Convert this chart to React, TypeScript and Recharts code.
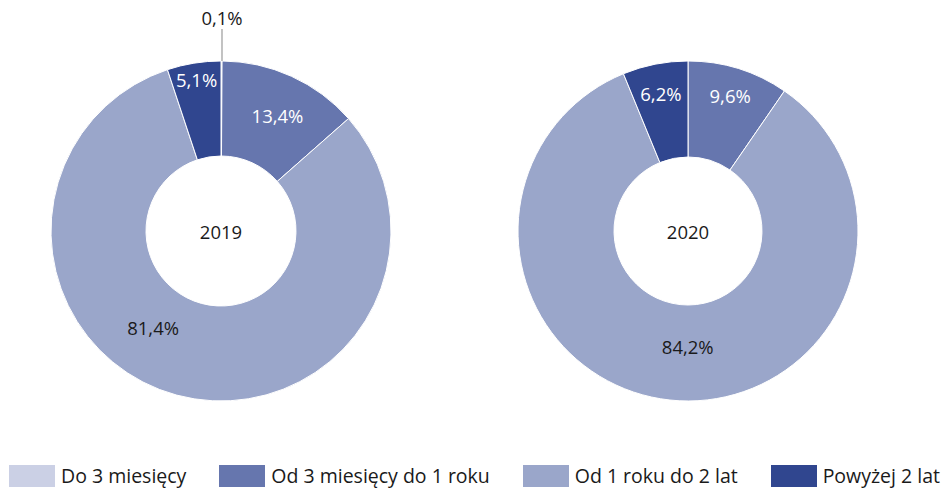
import React from 'react';
import { PieChart, Pie, Cell, Legend } from 'recharts';

const categories = ['Do 3 miesięcy', 'Od 3 miesięcy do 1 roku', 'Od 1 roku do 2 lat', 'Powyżej 2 lat'];
const values2019 = [0.1, 13.4, 81.4, 5.1];
const values2020 = [0.0, 9.6, 84.2, 6.2];
const years = ['2019', '2020'];

const COLORS = ['#cbd0e5', '#6676ae', '#9aa6ca', '#30468f'];
const LABEL_COLORS = ['#1a1a1a', '#ffffff', '#1a1a1a', '#ffffff'];
const FONT = '"Open Sans", "Noto Sans", sans-serif';
const RAD = Math.PI / 180;

type Place = { r: number; dcw: number; leader?: boolean };
const place2019: Place[] = [
  { r: 0, dcw: 0, leader: true },
  { r: 129, dcw: 1.5 },
  { r: 118, dcw: 20 },
  { r: 153, dcw: 0 },
];
const place2020: Place[] = [
  { r: 0, dcw: 0, leader: true },
  { r: 142, dcw: 0 },
  { r: 116, dcw: -6 },
  { r: 140, dcw: 0 },
];

const toData = (vals: number[]) => categories.map((name, i) => ({ name, value: vals[i] }));
const data2019 = toData(values2019);
const data2020 = toData(values2020);

const fmt = (v: number) => v.toFixed(1).replace('.', ',') + '%';

const makeLabel = (places: Place[], year: string) => (props: any) => {
  const { cx, cy, midAngle, outerRadius, value, index } = props;
  if (!value) return null;
  const p = places[index];
  const center =
    index === 1 ? (
      <text x={cx} y={cy} textAnchor="middle" dominantBaseline="central" fill="#1a1a1a" fontSize={18.5} fontFamily={FONT}>
        {year}
      </text>
    ) : null;
  if (p.leader) {
    const x0 = cx + outerRadius * Math.cos(-midAngle * RAD);
    const y0 = cy + outerRadius * Math.sin(-midAngle * RAD);
    const x = Math.round(x0);
    return (
      <g key={'lbl' + index}>
        <line x1={x} y1={y0} x2={x} y2={y0 - 32} stroke="#9a9a9a" strokeWidth={1.2} />
        <text x={x} y={y0 - 44} textAnchor="middle" dominantBaseline="central" fill="#1a1a1a" fontSize={18.5} fontFamily={FONT}>
          {fmt(value)}
        </text>
      </g>
    );
  }
  const a = midAngle - p.dcw;
  const x = cx + p.r * Math.cos(-a * RAD);
  const y = cy + p.r * Math.sin(-a * RAD);
  return (
    <g key={'lbl' + index}>
      {center}
      <text x={x} y={y} textAnchor="middle" dominantBaseline="central" fill={LABEL_COLORS[index]} fontSize={18.5} fontFamily={FONT}>
        {fmt(value)}
      </text>
    </g>
  );
};

const LegendContent = () => (
  <div
    style={{
      display: 'flex',
      justifyContent: 'space-between',
      alignItems: 'center',
      width: 944,
      boxSizing: 'border-box',
      paddingLeft: 9,
      paddingRight: 4,
      fontFamily: FONT,
      fontSize: 19.5,
      color: '#1a1a1a',
    }}
  >
    {categories.map((c, i) => (
      <div key={c} style={{ display: 'flex', alignItems: 'center', height: 22 }}>
        <span style={{ display: 'inline-block', width: 46, height: 22, background: COLORS[i], marginRight: 6 }} />
        <span style={{ lineHeight: '22px', whiteSpace: 'nowrap' }}>{c}</span>
      </div>
    ))}
  </div>
);

export default function App() {
  return (
    <div style={{ position: 'absolute', left: 0, top: 0, width: 944, height: 488, background: '#fff' }}>
      <PieChart width={944} height={488} margin={{ top: 0, right: 0, bottom: 0, left: 0 }}>
        <Pie
          data={data2019}
          dataKey="value"
          nameKey="name"
          cx={221}
          cy={231}
          innerRadius={75}
          outerRadius={170}
          startAngle={90}
          endAngle={-270}
          stroke="#ffffff"
          strokeWidth={1}
          labelLine={false}
          label={makeLabel(place2019, years[0])}
          isAnimationActive={false}
        >
          {data2019.map((d, i) => (
            <Cell key={d.name} fill={COLORS[i]} />
          ))}
        </Pie>
        <Pie
          data={data2020}
          dataKey="value"
          nameKey="name"
          cx={688}
          cy={231}
          innerRadius={74}
          outerRadius={170}
          startAngle={90}
          endAngle={-270}
          stroke="#ffffff"
          strokeWidth={1}
          labelLine={false}
          label={makeLabel(place2020, years[1])}
          isAnimationActive={false}
        >
          {data2020.map((d, i) => (
            <Cell key={d.name} fill={COLORS[i]} />
          ))}
        </Pie>
        <Legend
          content={<LegendContent />}
          wrapperStyle={{ position: 'absolute', left: 0, top: 465, width: 944, height: 22 }}
        />
      </PieChart>
    </div>
  );
}
